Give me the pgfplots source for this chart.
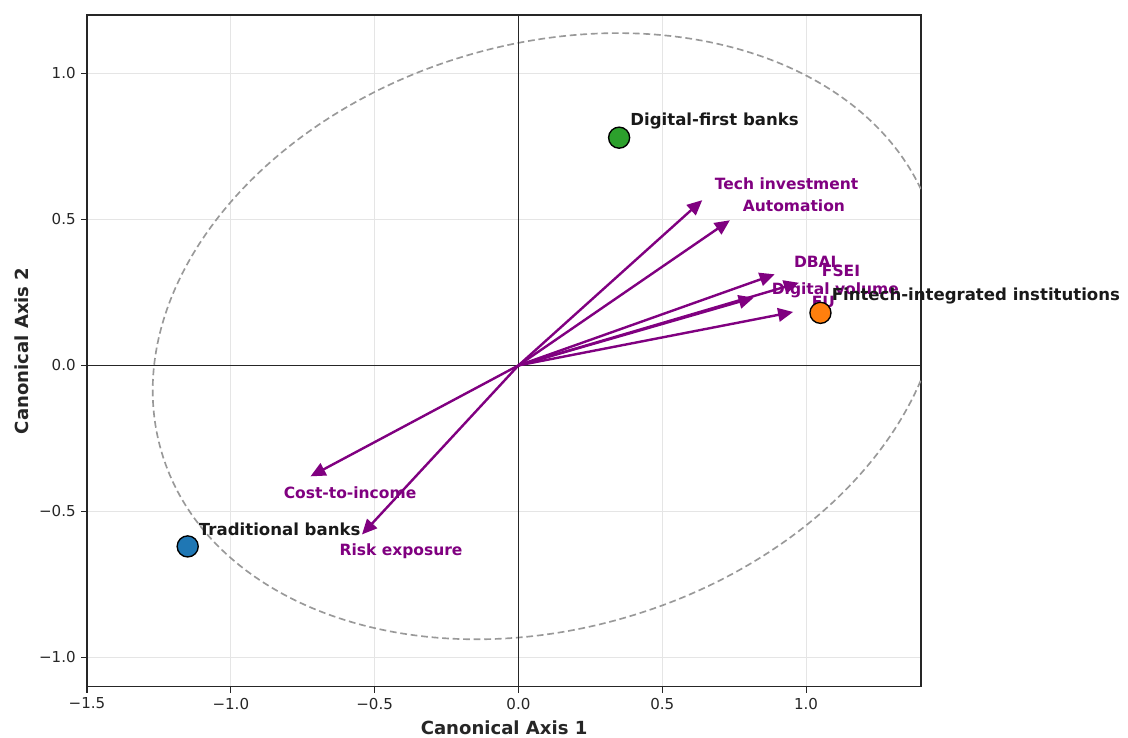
\documentclass[border=0pt]{standalone}
\usepackage{pgfplots}
\pgfplotsset{compat=1.18}
\usepackage{pgfplotstable}
\usepackage{fontspec}
\setmainfont{DejaVu Sans}
\usetikzlibrary{arrows.meta,calc}

\definecolor{tabblue}{HTML}{1F77B4}
\definecolor{taborange}{HTML}{FF7F0E}
\definecolor{tabgreen}{HTML}{2CA02C}
\definecolor{loadpurple}{HTML}{800080}

% loading vectors (arrow tips)
\pgfplotstableread{
x y u v
0 0 0.639 0.566
0 0 0.735 0.497
0 0 0.891 0.312
0 0 0.975 0.283
0 0 0.818 0.232
0 0 0.955 0.183
0 0 -0.723 -0.380
0 0 -0.544 -0.579
}\loadings

\begin{document}
\begin{tikzpicture}
\begin{axis}[
  name=main,
  width=554pt, height=446pt, scale only axis,
  xmin=-1.5, xmax=1.4, ymin=-1.1, ymax=1.2,
  xtick={-1.5,-1,-0.5,0,0.5,1},
  xticklabels={−1.5,−1.0,−0.5,0.0,0.5,1.0},
  ytick={-1,-0.5,0,0.5,1},
  yticklabels={−1.0,−0.5,0.0,0.5,1.0},
  tick label style={font=\fontsize{10}{12}\selectfont, text=black!85},
  tick align=outside, tick pos=left, major tick length=4pt,
  tick style={black!85, line width=0.7pt},
  grid=major, grid style={gray!20, line width=0.5pt},
  axis line style={black!85, line width=1.2pt},
  xlabel={Canonical Axis 1}, ylabel={Canonical Axis 2},
  label style={font=\fontsize{12}{14}\selectfont\bfseries, text=black!85},
  xlabel style={at={(axis description cs:0.5,-0.061)}, anchor=center},
  ylabel style={at={(axis description cs:-0.078,0.5)}, anchor=center},
  clip mode=individual,
]

% ellipse round the group centroids
\begin{scope}
\clip (rel axis cs:0,0) rectangle (rel axis cs:1,1);
\draw[gray!80, line width=1.1pt, dash pattern=on 4.5pt off 2.5pt,
      rotate around={17:(axis cs:0.1,0.1)}]
  (axis cs:0.1,0.1) ellipse [x radius=1.4, y radius=1.0];
\end{scope}

% zero lines
\addplot[black!85, line width=1.1pt, forget plot] coordinates {(-1.5,0) (1.4,0)};
\addplot[black!85, line width=1.1pt, forget plot] coordinates {(0,-1.1) (0,1.2)};

% loadings
\addplot[loadpurple, line width=1.6pt, -{Triangle[length=10pt,width=9pt]},
  quiver={u=\thisrow{u}, v=\thisrow{v}}] table[x=x, y=y] {\loadings};

\begin{scope}[every node/.style={font=\fontsize{10.3}{12}\selectfont\bfseries, text=loadpurple, anchor=west, inner sep=0pt}]
\node at (axis cs:0.682,0.623) {Tech investment};
\node at (axis cs:0.779,0.548) {Automation};
\node at (axis cs:0.957,0.353) {DBAL};
\node at (axis cs:1.054,0.325) {FSEI};
\node at (axis cs:0.880,0.257) {Digital volume};
\node at (axis cs:1.019,0.219) {EU};
\node at (axis cs:-0.817,-0.435) {Cost-to-income};
\node at (axis cs:-0.623,-0.637) {Risk exposure};
\end{scope}

% group centroids
\addplot[only marks, mark=*, mark size=7pt, mark options={fill=tabblue, draw=black, line width=0.9pt}] coordinates {(-1.15,-0.62)};
\addplot[only marks, mark=*, mark size=7pt, mark options={fill=taborange, draw=black, line width=0.9pt}] coordinates {(1.05,0.18)};
\addplot[only marks, mark=*, mark size=7pt, mark options={fill=tabgreen, draw=black, line width=0.9pt}] coordinates {(0.35,0.78)};

\begin{scope}[every node/.style={font=\fontsize{11}{13}\selectfont\bfseries, text=black!90, anchor=west, inner sep=0pt, xshift=7.3pt, yshift=11.3pt}]
\node at (axis cs:-1.15,-0.62) {Traditional banks};
\node at (axis cs:1.05,0.18) {Fintech-integrated institutions};
\node at (axis cs:0.35,0.78) {Digital-first banks};
\end{scope}
\end{axis}
\pgfresetboundingbox
\useasboundingbox ($(main.south west)+(-57.8pt,-33.9pt)$) rectangle ($(main.north east)+(137.4pt,10pt)$);
\end{tikzpicture}
\end{document}
